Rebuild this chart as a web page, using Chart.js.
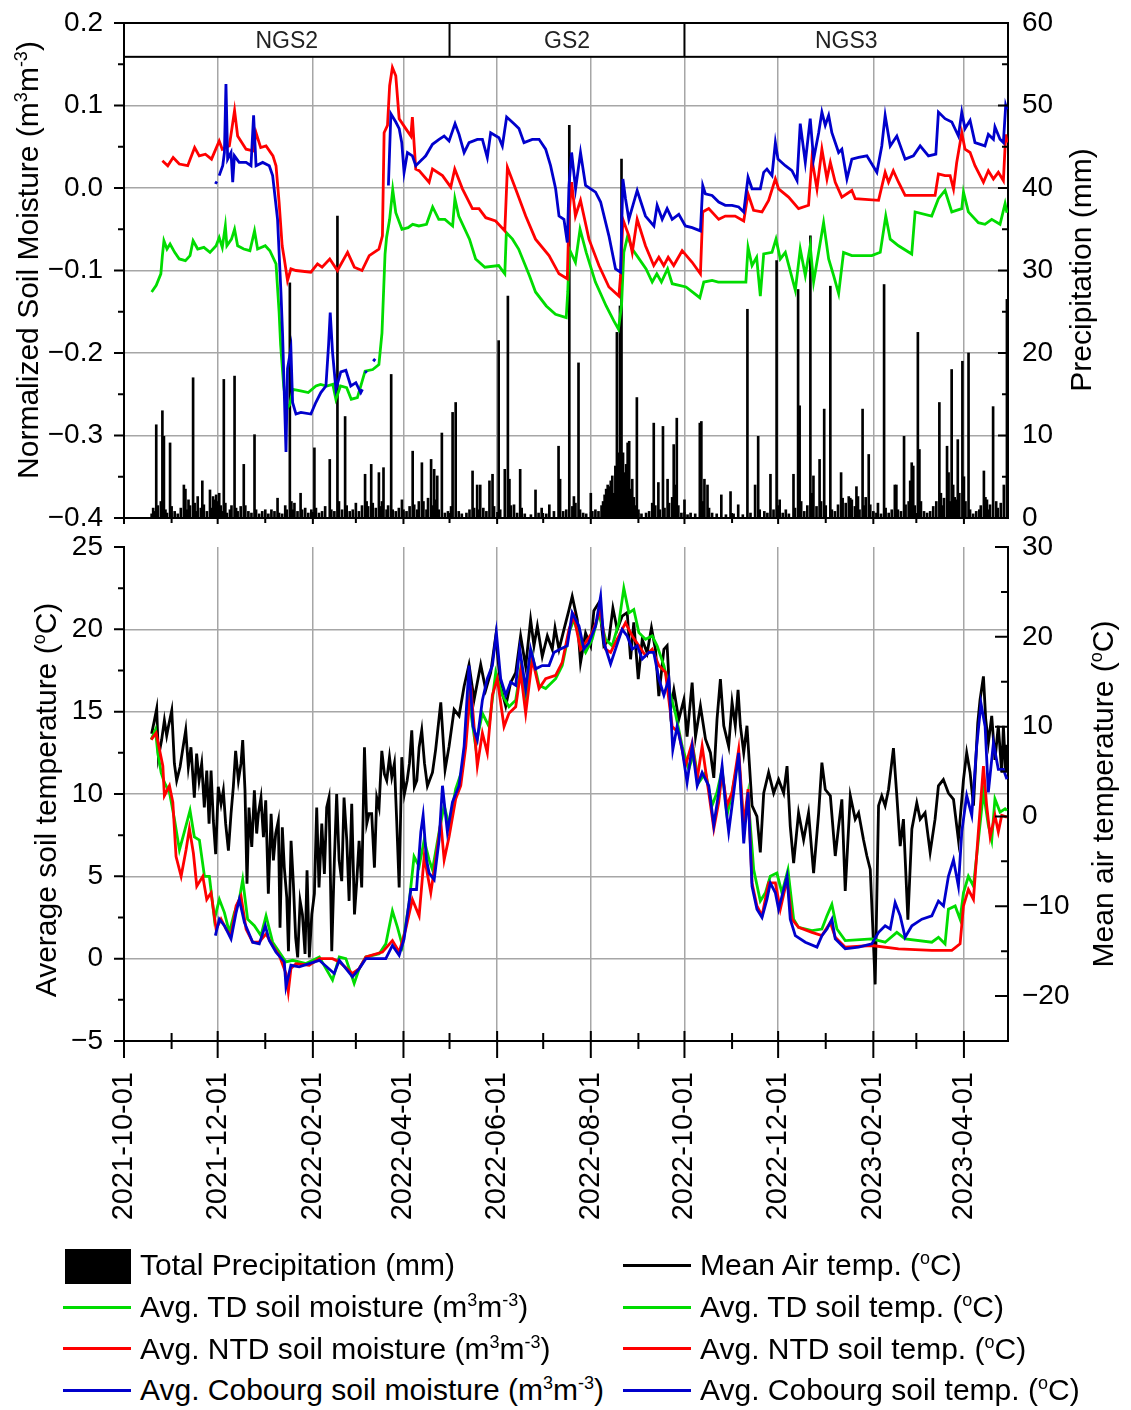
<!DOCTYPE html>
<html><head><meta charset="utf-8">
<script src="https://cdn.jsdelivr.net/npm/chart.js@4.4.1/dist/chart.umd.min.js"></script>
<style>
html,body{margin:0;padding:0;background:#fff;}
body{width:1131px;height:1410px;position:relative;overflow:hidden;font-family:"Liberation Sans",Arial,Helvetica,sans-serif;color:#000;}
canvas{position:absolute;left:0;}
#c1{top:0;} #c2{top:530px;}
.ttl{position:absolute;width:600px;height:36px;line-height:36px;text-align:center;font-size:30px;transform:rotate(-90deg);white-space:nowrap;}
sup{font-size:0.6em;vertical-align:0.62em;line-height:0;}
.leg{position:absolute;font-size:30px;line-height:34px;white-space:nowrap;}
.sw{position:absolute;}
</style></head>
<body>
<canvas id="c1" width="1131" height="530"></canvas>
<canvas id="c2" width="1131" height="720"></canvas>

<div class="ttl" style="left:-272px;top:242px;">Normalized Soil Moisture (m<sup>3</sup>m<sup>-3</sup>)</div>
<div class="ttl" style="left:781px;top:252px;">Precipitation (mm)</div>
<div class="ttl" style="left:-254px;top:782px;">Average soil temperature (<sup>o</sup>C)</div>
<div class="ttl" style="left:803px;top:776px;">Mean air temperature (<sup>o</sup>C)</div>

<div class="sw" style="left:65px;top:1249px;width:66px;height:35px;background:#000"></div>
<div class="leg" style="left:140px;top:1248px">Total Precipitation (mm)</div>
<div class="sw" id="l2" style="left:63px;top:1306px;width:68px;height:3px;"></div>
<div class="leg" style="left:140px;top:1290px">Avg. TD soil moisture (m<sup>3</sup>m<sup>-3</sup>)</div>
<div class="sw" id="l3" style="left:63px;top:1347px;width:68px;height:3px;"></div>
<div class="leg" style="left:140px;top:1332px">Avg. NTD soil moisture (m<sup>3</sup>m<sup>-3</sup>)</div>
<div class="sw" id="l4" style="left:63px;top:1389px;width:68px;height:3px;"></div>
<div class="leg" style="left:140px;top:1373px">Avg. Cobourg soil moisture (m<sup>3</sup>m<sup>-3</sup>)</div>

<div class="sw" id="r1" style="left:623px;top:1264px;width:68px;height:3px;"></div>
<div class="leg" style="left:700px;top:1248px">Mean Air temp. (<sup>o</sup>C)</div>
<div class="sw" id="r2" style="left:623px;top:1306px;width:68px;height:3px;"></div>
<div class="leg" style="left:700px;top:1290px">Avg. TD soil temp. (<sup>o</sup>C)</div>
<div class="sw" id="r3" style="left:623px;top:1347px;width:68px;height:3px;"></div>
<div class="leg" style="left:700px;top:1332px">Avg. NTD soil temp. (<sup>o</sup>C)</div>
<div class="sw" id="r4" style="left:623px;top:1389px;width:68px;height:3px;"></div>
<div class="leg" style="left:700px;top:1373px">Avg. Cobourg soil temp. (<sup>o</sup>C)</div>

<script>
// ---------------- DATA (x = days since 2021-10-01) ----------------
const monthLabels = ['2021-10-01','2021-11-01','2021-12-01','2022-01-01','2022-02-01','2022-03-01','2022-04-01','2022-05-01','2022-06-01','2022-07-01','2022-08-01','2022-09-01','2022-10-01','2022-11-01','2022-12-01','2023-01-01','2023-02-01','2023-03-01','2023-04-01'];
const lastDate = '2023-04-29';
const bandNames = ['NGS2','GS2','NGS3'];
const bandStarts = ['2021-10-01','2022-05-01','2022-10-01'];

const precipitation = [[18,0.5],[19,1.2],[20,0.8],[21,11.3],[22,1.5],[24,2.0],[25,13.0],[26,9.9],[27,1.0],[28,0.6],[30,9.1],[31,1.4],[33,0.8],[35,0.5],[37,1.2],[39,4.0],[40,3.5],[41,1.0],[42,2.2],[43,1.5],[45,17.0],[46,1.8],[47,0.8],[48,2.6],[50,1.2],[51,4.5],[52,1.6],[54,0.8],[56,3.4],[57,1.2],[58,2.6],[59,2.2],[60,2.8],[61,2.0],[62,3.0],[63,1.5],[64,0.8],[65,16.8],[66,1.8],[67,0.6],[69,1.0],[70,1.5],[72,17.2],[73,1.2],[74,0.8],[76,1.4],[78,6.5],[79,1.5],[81,0.8],[83,0.6],[85,10.1],[86,1.0],[88,0.5],[90,0.8],[92,1.0],[94,0.5],[96,1.0],[98,0.8],[100,2.4],[101,0.6],[103,0.5],[105,1.5],[106,1.0],[108,28.5],[109,2.0],[110,1.0],[111,1.8],[113,0.8],[115,3.0],[116,1.0],[118,1.2],[120,0.6],[122,1.0],[124,8.5],[125,1.2],[127,0.6],[129,0.8],[131,1.4],[134,7.1],[135,1.0],[137,0.8],[139,36.6],[140,2.0],[142,1.0],[144,12.3],[145,1.5],[147,0.8],[149,1.0],[151,1.8],[153,0.8],[155,1.5],[157,5.3],[158,2.0],[159,1.4],[161,6.5],[162,1.8],[164,1.2],[166,5.5],[167,1.4],[168,2.0],[169,6.1],[171,1.0],[172,1.5],[174,17.4],[175,1.0],[177,0.8],[179,1.2],[181,2.2],[182,1.0],[184,0.8],[186,1.4],[188,8.1],[189,1.6],[191,1.0],[192,2.0],[194,6.7],[195,2.0],[197,1.0],[198,2.4],[200,7.1],[201,1.5],[202,5.9],[203,2.2],[204,5.1],[205,1.0],[207,10.3],[209,0.6],[211,0.8],[213,1.4],[214,12.8],[216,14.0],[218,0.8],[220,0.5],[223,0.6],[225,1.0],[227,5.7],[228,1.2],[230,4.0],[231,1.0],[232,4.0],[234,1.2],[236,0.8],[238,4.5],[240,5.3],[241,1.4],[244,21.5],[245,1.0],[248,5.9],[250,26.9],[251,4.7],[252,1.5],[254,1.6],[256,0.6],[258,5.9],[259,1.2],[261,0.5],[265,0.4],[268,3.4],[270,0.6],[272,1.2],[275,0.5],[277,1.6],[280,0.8],[283,8.7],[284,4.7],[286,0.8],[288,1.0],[290,47.6],[292,1.4],[293,2.6],[294,1.8],[296,18.8],[297,1.0],[299,0.6],[301,0.5],[304,3.0],[305,0.8],[307,1.0],[309,0.8],[311,1.5],[312,2.0],[313,2.8],[314,3.5],[315,4.0],[316,3.8],[317,4.5],[318,5.1],[319,3.0],[320,6.3],[321,22.5],[322,7.9],[323,25.7],[324,43.5],[325,7.9],[326,5.5],[327,6.5],[328,9.1],[329,9.3],[330,3.5],[331,4.7],[332,2.5],[333,1.5],[334,14.6],[335,1.0],[337,0.5],[340,0.6],[342,0.8],[344,1.8],[345,11.5],[346,1.5],[348,4.3],[349,1.0],[351,11.1],[352,1.2],[354,4.7],[355,1.8],[357,2.5],[358,8.9],[359,4.0],[360,12.1],[361,1.5],[363,0.6],[365,2.2],[367,0.4],[369,0.6],[372,0.5],[375,11.5],[376,11.7],[377,2.0],[378,4.7],[380,4.0],[381,1.2],[383,0.6],[386,0.5],[389,2.8],[392,0.4],[395,3.2],[397,0.5],[400,1.6],[403,0.4],[406,25.3],[408,0.6],[411,4.0],[413,9.9],[414,1.0],[417,0.8],[419,0.6],[421,5.3],[423,1.0],[425,31.2],[426,1.5],[427,2.2],[429,0.6],[431,1.0],[433,0.5],[436,5.3],[437,1.2],[439,27.7],[440,13.6],[441,2.0],[443,0.8],[445,1.5],[447,34.2],[448,3.0],[449,5.1],[451,1.4],[453,7.1],[454,2.0],[456,13.2],[457,1.5],[460,28.1],[461,1.0],[463,0.8],[465,1.6],[467,5.5],[468,2.4],[470,1.8],[472,2.6],[473,2.4],[474,2.2],[476,1.4],[477,3.8],[478,2.6],[479,1.0],[481,13.2],[482,1.5],[483,2.5],[485,7.7],[486,1.6],[488,0.8],[490,0.6],[491,1.8],[493,0.5],[495,28.3],[496,1.2],[498,0.6],[500,1.0],[502,4.0],[503,4.0],[504,1.0],[506,0.8],[508,9.9],[509,1.6],[511,2.0],[512,4.5],[513,6.7],[514,6.3],[515,1.5],[517,22.5],[518,8.3],[519,2.0],[521,0.8],[523,0.6],[525,0.8],[527,1.4],[529,2.0],[531,14.0],[532,3.0],[533,1.5],[534,2.4],[536,8.7],[537,5.5],[538,2.0],[539,18.0],[540,4.0],[541,2.5],[542,2.2],[543,9.5],[544,3.0],[546,19.0],[547,5.0],[548,2.0],[550,20.0],[551,1.0],[553,0.5],[555,0.8],[557,1.0],[558,1.5],[560,5.7],[561,2.5],[562,2.2],[563,1.0],[564,1.6],[566,13.5],[568,2.0],[569,1.2],[571,1.8],[573,4.0],[575,26.5]];

const tdMoisture = [[18,-0.126],[21,-0.118],[24,-0.104],[25,-0.082],[26,-0.064],[28,-0.074],[30,-0.068],[33,-0.078],[36,-0.086],[40,-0.088],[43,-0.082],[45,-0.064],[48,-0.074],[52,-0.072],[56,-0.078],[60,-0.070],[62,-0.060],[64,-0.072],[66,-0.046],[67,-0.070],[70,-0.062],[72,-0.050],[74,-0.070],[78,-0.074],[82,-0.076],[85,-0.052],[87,-0.074],[92,-0.070],[95,-0.076],[99,-0.092],[101,-0.150],[102,-0.190],[104,-0.240],[106,-0.268],[108,-0.262],[110,-0.244],[115,-0.246],[120,-0.248],[125,-0.240],[128,-0.238],[132,-0.240],[136,-0.238],[138,-0.256],[141,-0.240],[145,-0.242],[148,-0.256],[152,-0.254],[157,-0.222],[162,-0.220],[166,-0.214],[168,-0.176],[170,-0.080],[171,-0.060],[173,-0.038],[175,-0.002],[177,-0.030],[181,-0.050],[185,-0.048],[188,-0.044],[192,-0.046],[197,-0.044],[201,-0.023],[205,-0.038],[209,-0.038],[214,-0.046],[215.5,-0.013],[218,-0.034],[225,-0.062],[229,-0.086],[235,-0.096],[244,-0.094],[248,-0.104],[249,-0.054],[253,-0.062],[257,-0.074],[264,-0.106],[268,-0.126],[275,-0.143],[281,-0.153],[288,-0.157],[289,-0.126],[290,-0.074],[294,-0.090],[297,-0.050],[301,-0.078],[307,-0.114],[314,-0.143],[319,-0.161],[322,-0.171],[324,-0.143],[325.5,-0.078],[328,-0.058],[331,-0.074],[334,-0.082],[340,-0.098],[344,-0.114],[347,-0.104],[350,-0.114],[354,-0.098],[357,-0.116],[366,-0.120],[375,-0.133],[377.6,-0.114],[383,-0.112],[387,-0.114],[405,-0.114],[406.4,-0.072],[409,-0.094],[412,-0.084],[414.4,-0.131],[416.6,-0.080],[422,-0.078],[424.6,-0.062],[427.4,-0.086],[430.7,-0.078],[437.2,-0.124],[440.4,-0.074],[443.7,-0.106],[446.9,-0.070],[449.1,-0.114],[455.6,-0.042],[458.9,-0.086],[462.1,-0.106],[465.4,-0.128],[468.6,-0.078],[474,-0.082],[487,-0.082],[492.5,-0.078],[496.1,-0.034],[499,-0.062],[504.4,-0.070],[513,-0.080],[515.2,-0.029],[526,-0.034],[530.4,-0.013],[534.7,-0.003],[539.1,-0.029],[545.6,-0.025],[546.7,-0.005],[549.9,-0.029],[556.4,-0.042],[560.7,-0.044],[565.1,-0.038],[570.5,-0.044],[573.8,-0.019],[575,-0.030]];

const ntdMoisture = [[25,0.033],[28.5,0.027],[32,0.037],[36,0.029],[41.5,0.027],[46,0.049],[49,0.039],[53,0.041],[57,0.035],[62,0.057],[64,0.047],[68.6,0.051],[72,0.094],[74,0.063],[79.5,0.047],[84,0.045],[86,0.067],[89,0.049],[92.5,0.051],[97,0.039],[99,0.027],[101,-0.017],[103,-0.070],[104.4,-0.086],[106.5,-0.112],[108.7,-0.098],[112,-0.100],[121.7,-0.102],[126,-0.092],[129,-0.096],[134,-0.086],[139,-0.100],[145.6,-0.078],[150,-0.096],[155,-0.100],[159.7,-0.082],[166,-0.074],[168.3,-0.058],[169.4,0.067],[171.6,0.076],[173,0.124],[174.8,0.146],[177,0.136],[179.2,0.084],[183.5,0.072],[186.8,0.063],[187.8,0.086],[190,0.023],[192.2,0.021],[198.7,0.007],[200.9,0.023],[207.4,0.015],[212.8,0.001],[215.4,0.023],[220.4,-0.001],[226.9,-0.025],[231.2,-0.025],[235.6,-0.036],[242,-0.040],[248,-0.052],[249.7,0.025],[255,-0.001],[261.6,-0.034],[268,-0.062],[276.8,-0.082],[283.3,-0.104],[288.7,-0.110],[289.8,-0.034],[291.5,0.007],[294,-0.034],[297.3,-0.015],[302.8,-0.062],[309.3,-0.094],[315.8,-0.120],[322.3,-0.131],[323.4,-0.106],[324.9,-0.038],[328.8,-0.058],[331,-0.078],[334.2,-0.038],[339.6,-0.070],[345,-0.094],[348.3,-0.084],[351.5,-0.094],[354.4,-0.084],[358,-0.094],[363.5,-0.076],[370,-0.090],[375.4,-0.104],[376.9,-0.029],[380.8,-0.025],[387.3,-0.038],[391.6,-0.034],[398,-0.034],[403.6,-0.040],[406.4,-0.007],[410,-0.027],[415.5,-0.029],[419.8,-0.015],[424.2,0.011],[426.3,-0.001],[432.8,-0.011],[439.3,-0.025],[445.8,-0.021],[448,0.035],[451.3,-0.001],[454.5,0.047],[457.8,0.011],[460,0.031],[463.2,0.007],[467.5,-0.011],[474,-0.003],[476.2,-0.013],[491.4,-0.015],[495.7,0.019],[497.9,0.007],[501,0.021],[504.4,0.007],[508.7,-0.009],[528.2,-0.009],[530.4,0.017],[534.7,0.015],[538,0.015],[540.2,-0.001],[542.3,0.031],[545.6,0.067],[547.7,0.047],[551,0.043],[554.2,0.027],[559.7,0.007],[562.9,0.021],[566.2,0.011],[569.4,0.019],[572.7,0.009],[574.2,0.065],[575,0.055]];

const cobourgMoisture = [[59.5,0.005],[60.5,0.008],[61,null],[62,0.015],[64.3,0.027],[65.4,0.043],[66.4,0.126],[67.5,0.035],[69.7,0.043],[70.8,0.007],[71.9,0.039],[75,0.031],[79.5,0.031],[82.7,0.027],[84.4,0.088],[86,0.027],[90.3,0.031],[94.6,0.027],[96.8,0.015],[98.5,-0.013],[100,-0.038],[102.2,-0.126],[103.3,-0.179],[105.5,-0.320],[106.5,-0.219],[108.7,-0.195],[109.8,-0.260],[112,-0.274],[115.2,-0.272],[121.7,-0.274],[124.9,-0.260],[128.2,-0.248],[131.5,-0.240],[133.2,-0.191],[134.3,-0.151],[135.8,-0.199],[138,-0.244],[141.2,-0.223],[144.5,-0.221],[147.7,-0.240],[151,-0.236],[154.2,-0.248],[155.3,-0.244],[156,null],[157,-0.222],[158.2,-0.224],[159,null],[162.3,-0.210],[163.6,-0.207],[164,null],[172.2,0.003],[173.8,0.090],[177,0.080],[179.2,0.072],[180.9,0.055],[182.4,0.019],[184.6,0.043],[187.8,0.039],[190,0.027],[194.4,0.035],[196.5,0.039],[200.9,0.053],[205.2,0.059],[208.5,0.063],[211.7,0.057],[215.6,0.078],[218.2,0.065],[221.5,0.043],[224.7,0.055],[230.1,0.059],[233.4,0.059],[236.6,0.037],[238.8,0.067],[244.2,0.061],[246.4,0.051],[249.2,0.086],[254,0.078],[257.2,0.072],[260.5,0.055],[265.9,0.059],[270.3,0.059],[274.6,0.047],[277.8,0.027],[281.1,-0.001],[283.3,-0.034],[286.5,-0.038],[288.7,-0.066],[289.8,0.003],[291.5,0.043],[294.1,-0.001],[297.3,0.043],[300.6,0.003],[307.1,-0.005],[310.4,-0.017],[315.8,-0.058],[320.1,-0.098],[323.4,-0.102],[324.9,0.011],[326.6,-0.013],[328.8,-0.038],[334.2,-0.003],[339.6,-0.034],[345.1,-0.046],[347.2,-0.021],[350.5,-0.038],[353.7,-0.025],[357,-0.038],[361.3,-0.032],[365.6,-0.046],[370,-0.048],[375.4,-0.052],[376.9,0.003],[378.6,-0.007],[383,-0.009],[387.3,-0.017],[391.6,-0.021],[396,-0.021],[400.3,-0.023],[403.6,-0.029],[406.4,0.013],[409,-0.001],[414.4,-0.001],[416.6,0.019],[418.7,0.023],[422,0.015],[424.2,0.055],[425.9,0.035],[430.7,0.027],[435,0.021],[438.3,0.009],[440.4,0.078],[443.7,0.031],[446.9,0.084],[449.1,0.035],[452.4,0.067],[454.5,0.092],[456.7,0.076],[458.9,0.088],[461,0.067],[465.4,0.043],[467.5,0.047],[470.8,0.011],[474,0.035],[478.4,0.037],[483.8,0.039],[490.3,0.019],[493.5,0.051],[495.7,0.088],[499,0.051],[503.3,0.063],[508.7,0.035],[514.1,0.039],[518.5,0.051],[523.9,0.039],[528.7,0.041],[530.4,0.092],[534.7,0.084],[539.1,0.080],[543.4,0.063],[545.6,0.092],[547.7,0.072],[551,0.082],[554.2,0.055],[560.7,0.051],[562.9,0.065],[566.2,0.059],[567.2,0.074],[570.5,0.059],[572.7,0.055],[574.2,0.100],[575,0.095]];

const airTemp = [[18.0,9.2],[19.8,10.7],[21.3,12.0],[22.4,6.6],[24.5,8.5],[26.3,10.7],[27.8,9.0],[28.9,10.0],[31.1,11.8],[32.8,5.9],[34.3,4.0],[36.5,5.5],[38.0,7.2],[40.2,9.6],[41.9,5.5],[43.6,7.7],[45.8,2.1],[47.3,7.0],[48.9,4.0],[50.6,5.9],[52.3,1.0],[53.9,5.1],[55.4,-0.8],[56.7,5.1],[58.2,-0.5],[59.7,-4.2],[61.4,3.3],[63.2,1.4],[64.7,2.9],[66.2,-0.8],[68.0,-3.8],[69.7,0.3],[71.2,3.3],[72.7,7.3],[74.5,4.0],[76.2,5.9],[77.3,8.5],[78.8,2.9],[80.1,-7.5],[81.4,1.0],[83.2,-3.4],[84.9,2.9],[86.4,-1.9],[87.5,0.3],[89.2,2.1],[90.8,-2.3],[92.3,1.8],[94.0,-8.6],[95.8,0.3],[97.3,-4.9],[98.8,-1.9],[100.5,-0.5],[101.6,-12.4],[103.1,-1.2],[104.4,-5.7],[106.0,-9.0],[107.1,-15.0],[108.8,-2.7],[110.3,-7.5],[111.8,-13.5],[113.1,-15.7],[114.7,-9.4],[116.2,-10.9],[117.9,-15.3],[119.2,-6.0],[120.7,-15.7],[122.3,-10.9],[124.0,-8.6],[125.5,1.0],[127.0,-7.9],[128.8,-0.8],[130.5,-6.4],[132.0,1.0],[133.5,2.1],[135.3,-15.0],[137.0,-4.9],[138.5,2.5],[140.1,-4.9],[141.8,-7.2],[143.3,2.1],[145.1,-2.7],[146.6,-9.4],[148.3,1.4],[150.1,-10.9],[151.6,-7.2],[153.1,-2.7],[154.8,-7.9],[156.6,7.7],[158.1,-0.8],[159.6,0.3],[161.3,0.3],[163.1,-5.7],[164.6,2.1],[166.1,1.0],[167.9,7.3],[169.6,4.7],[171.1,4.0],[172.9,6.6],[174.4,4.4],[176.1,5.9],[177.6,-0.5],[179.2,-7.9],[180.9,6.6],[182.6,2.5],[184.4,4.0],[185.9,5.9],[187.4,9.6],[189.1,3.3],[190.7,4.0],[192.2,7.7],[193.9,9.6],[195.7,5.9],[197.6,3.4],[200.9,4.9],[203,7.5],[206.3,12.7],[209.1,5.2],[211.7,7.8],[215,11.9],[218.2,11.2],[221.5,14.5],[224.7,16.9],[228,13.0],[232.3,16.9],[235.6,14.1],[238.8,16.0],[242.1,20.1],[245.3,14.5],[248.6,12.3],[251.8,14.9],[255.1,16.0],[258.3,20.1],[261.6,16.7],[264.8,21.9],[267,19.0],[269.2,21.2],[272.4,17.8],[275.7,20.1],[278.9,18.6],[280.7,21.0],[283.3,18.6],[286.5,20.8],[289.8,23.0],[291.9,24.5],[295.2,21.9],[297.3,17.1],[300.6,20.4],[303.9,19.0],[306,22.9],[309.3,23.8],[312.5,19.0],[315.8,19.7],[318.4,23.2],[321.2,20.8],[324.4,22.3],[327.7,22.7],[329.9,17.5],[332,21.6],[334.9,15.3],[337.5,19.7],[340.7,18.2],[343.5,21.0],[346.1,18.6],[348.3,13.4],[351.6,18.6],[353.7,19.0],[355.9,11.9],[358.1,14.1],[361.3,10.8],[364.6,13.0],[366.7,8.9],[370,14.9],[372.2,8.9],[375.4,12.3],[378.7,8.6],[381.9,7.1],[384.1,4.3],[386.2,10.8],[388.4,15.3],[390.6,10.1],[393.8,7.8],[396,12.7],[398.1,10.1],[399.9,14.1],[401.4,10.1],[403.6,7.1],[405.7,10.1],[409,1.2],[412.2,0.0],[414.4,-4.0],[416.6,2.6],[419.8,4.9],[423.1,2.6],[426.3,4.1],[429.6,2.6],[431.8,5.6],[433.9,-1.1],[436.1,-5.2],[439.3,0.4],[442.6,-2.6],[445.8,0.4],[449.1,-6.3],[452.4,0.4],[454.5,6.0],[456.7,3.0],[460,2.3],[463.2,-4.4],[465.4,-1.1],[467.5,1.9],[469.7,-8.3],[473,2.3],[476.2,-0.3],[478.4,0.4],[481.6,-2.6],[483.8,-4.4],[486,-5.9],[487.5,-11.8],[489.2,-18.7],[491.4,1.2],[493.5,2.3],[495.7,1.2],[497.9,3.0],[501.1,7.6],[503.3,2.3],[505.5,-3.3],[507.6,-0.3],[510.5,-11.5],[513.1,-1.4],[516.3,1.5],[518.5,-0.3],[521.7,0.4],[525,-4.0],[528.2,-0.3],[530.4,3.4],[533.6,4.1],[536.9,2.6],[540.2,1.9],[543.4,-2.6],[546.7,4.1],[548.8,7.1],[551,4.9],[553.2,1.2],[556,10.4],[557.5,13.0],[559.7,15.6],[561.2,10.8],[562.9,8.2],[565.1,11.2],[567.2,6.3],[569.4,10.1],[571.6,4.9],[572.7,10.1],[574.2,4.9],[575,8.0]];

const tdSoilTemp = [[17.7,13.3],[20.5,13.9],[22,12.5],[24.2,11.3],[26.3,10.7],[29.6,10.1],[32.8,8.5],[36.1,6.6],[39.3,7.7],[43,9.0],[45.8,7.4],[49.1,7.2],[52.4,5.0],[55.6,5.0],[58.9,2.4],[62.1,3.6],[65.4,2.8],[68.6,1.6],[71.9,2.8],[75.1,3.6],[77.3,4.8],[80.5,2.4],[84.9,2.0],[89.2,1.4],[92.5,2.6],[96.8,1.0],[101.1,0.4],[105.5,-0.2],[109.8,-0.1],[118.5,-0.3],[127.2,0.1],[135.8,-1.3],[140.2,0.1],[144.5,0.0],[149.9,-1.5],[153.2,-0.6],[157.5,0.1],[166.2,0.3],[170.5,0.9],[174.8,2.9],[178.1,1.9],[181.3,0.8],[185.7,3.4],[188.9,6.2],[192.2,5.6],[195.5,7.2],[198.7,6.0],[200.9,5.4],[205.2,7.7],[208.5,9.3],[211.7,8.1],[216,10.3],[220.4,11.5],[224.7,15.7],[229,12.9],[233.4,14.9],[237.7,14.1],[242.1,17.4],[246.4,16.0],[250.7,15.3],[255.1,15.7],[258.3,17.6],[261.6,15.7],[265.9,18.4],[270.3,16.6],[274.6,16.4],[281.1,17.0],[285.4,17.8],[289.8,19.8],[293,20.6],[297.3,19.2],[300.6,18.6],[304.9,19.4],[309.3,21.0],[313.6,19.4],[317.9,19.0],[322.3,20.4],[325.5,22.5],[328.8,21.0],[332,21.2],[335.3,19.8],[339.6,19.4],[344,19.6],[347.2,19.0],[351.6,17.8],[355.9,16.0],[359.1,14.9],[363.5,12.9],[367.8,11.5],[371.1,12.5],[374.3,10.7],[378.7,11.3],[383,9.3],[386.2,10.1],[389.5,11.5],[392.7,8.7],[396,10.1],[400.3,12.3],[403.6,7.9],[406.4,9.9],[410.1,5.4],[414.4,3.5],[417.7,4.0],[420.9,5.0],[425.2,5.2],[428.5,4.0],[432.4,5.4],[436.1,2.4],[439.3,1.9],[448,1.7],[454.5,1.8],[457.8,2.6],[461,3.3],[464.3,1.8],[469.7,1.1],[487,1.2],[495.7,1.0],[503.3,1.6],[508.7,1.2],[526.1,1.0],[530.4,1.3],[534.7,0.9],[536.9,3.0],[541.3,3.2],[544.5,2.4],[546.7,4.0],[549.9,5.0],[553.2,4.4],[556.4,7.2],[559.7,10.1],[562.9,8.1],[565.1,7.2],[567.2,9.7],[570.5,8.9],[573.8,9.1],[575,9.0]];

const ntdSoilTemp = [[17.7,13.3],[20.9,13.7],[25.3,11.7],[26.3,9.9],[29.6,10.5],[31.8,9.5],[33.9,6.2],[37.2,5.0],[40.4,6.6],[42.6,7.9],[45.2,6.4],[47.4,4.4],[51.3,5.0],[53.9,3.6],[56.7,4.0],[60,1.8],[63.2,2.4],[66.5,1.8],[69.7,1.4],[73,3.2],[76.2,3.8],[79.5,1.8],[83.8,1.0],[88,1.0],[92.5,1.5],[96.8,0.8],[101.1,0.2],[105.5,-0.9],[107,-2.0],[108.7,-0.6],[112,-0.3],[120.6,-0.4],[127.2,0.0],[135.8,0.0],[140.2,-0.2],[148.8,-0.9],[153.2,-0.6],[157.5,0.1],[168.3,0.4],[174.8,1.1],[179.2,0.4],[183.5,1.8],[187.8,3.6],[192.2,2.6],[195.5,6.2],[199.8,4.0],[203,6.0],[206.3,8.3],[208.5,6.0],[211.7,7.4],[216,9.7],[219.3,10.5],[222.6,12.9],[225.8,16.6],[230.1,11.7],[233.4,13.7],[236.6,12.5],[239.9,16.0],[243.1,17.0],[247.5,14.1],[250.7,14.9],[255.1,15.3],[258.3,17.4],[261.6,14.9],[265.9,18.2],[270.3,16.4],[274.6,17.0],[281.1,17.2],[285.4,18.0],[289.8,20.0],[293,20.8],[297.3,18.8],[300.6,19.2],[304.9,19.8],[310.4,21.2],[313.6,18.8],[316.9,18.6],[321.2,19.4],[326.6,20.4],[331,19.6],[335.3,19.0],[339.6,18.4],[344,18.8],[348.3,17.8],[352.6,17.4],[357,14.1],[361.3,13.7],[365.6,11.7],[370,13.1],[373.3,10.9],[376.5,12.9],[380.8,10.1],[384.1,7.9],[387.3,9.5],[389.5,11.3],[392.7,9.3],[396,10.1],[400.3,12.7],[403.6,8.1],[406.4,10.3],[409,4.6],[412.2,3.2],[415.5,2.6],[419.8,4.6],[424.2,4.6],[427.4,3.0],[431.8,4.8],[435,2.4],[439.3,1.9],[448,1.6],[454.5,1.4],[460,2.2],[463.2,1.3],[469.7,0.7],[487,0.8],[504.4,0.6],[526.1,0.5],[539.1,0.5],[544.5,0.9],[546.7,3.2],[549.9,4.2],[553.2,3.6],[556.4,7.7],[559.7,11.7],[561.8,9.3],[564.1,7.4],[567.2,8.7],[569.4,7.7],[571.6,8.7],[575,8.6]];

const cobourgSoilTemp = [[59.5,1.4],[62.1,2.4],[65.4,2.0],[69.7,1.2],[73,2.8],[75.1,3.6],[78.4,2.2],[83.8,1.0],[88.1,0.9],[92,2.0],[94.6,1.1],[99,0.4],[104.4,-0.2],[105.5,-1.7],[108.7,-0.4],[114.1,-0.5],[127.2,-0.1],[136.9,-0.9],[140.2,-0.1],[148.8,-1.1],[153.2,-0.6],[157.5,0.0],[170.5,0.0],[174.8,0.8],[179.2,0.2],[182.4,1.2],[186.8,4.2],[190.5,4.2],[193.3,7.7],[194.8,8.7],[197,6.0],[198.7,5.2],[202,4.8],[205.2,7.2],[207.4,10.5],[210.6,7.7],[213.9,9.5],[218.2,10.5],[221.5,12.9],[224.7,17.8],[227.3,14.1],[230.1,13.3],[233.4,15.7],[236.6,17.0],[239.9,17.8],[242.5,19.8],[245.3,17.0],[248.6,16.0],[251.8,16.8],[255.1,16.6],[257.7,18.8],[261.6,16.4],[264.8,18.8],[268.1,17.6],[272.4,17.8],[276.8,17.8],[280,18.6],[284.3,18.8],[288.7,19.0],[291.9,21.0],[296.3,20.2],[299.5,18.8],[302.8,19.2],[307.1,20.2],[310.4,22.0],[312.5,19.2],[316.9,17.9],[320.1,18.8],[324.4,20.0],[327.7,19.6],[331,18.8],[334.2,19.0],[337.5,18.2],[341.8,18.6],[345,18.6],[348.3,17.0],[351.6,16.0],[354.8,17.0],[357.4,12.7],[360.2,14.1],[363.5,12.7],[366.7,10.7],[370,12.9],[373.3,10.5],[376.5,11.3],[380.8,10.5],[384.1,8.1],[387.3,10.1],[389.5,11.7],[391.6,9.5],[393.8,7.7],[397.1,10.1],[400.3,12.5],[403.6,7.0],[406.4,10.1],[409,4.4],[412.2,3.0],[415.5,2.5],[418.7,3.6],[420.9,4.6],[424.2,4.0],[426.3,3.0],[429.6,4.2],[431.8,5.0],[433.9,2.4],[437.2,1.4],[443.7,1.0],[451.3,0.7],[454.5,1.4],[457.8,1.8],[461,2.4],[463.2,1.2],[469.7,0.6],[478.4,0.7],[487,0.9],[491.4,1.6],[495.7,2.0],[499,1.8],[502.2,3.4],[505.5,2.6],[508.7,1.3],[513.1,2.0],[519.6,2.4],[526.1,2.6],[530.4,3.5],[533.7,3.2],[536.9,5.0],[540.2,6.0],[543.4,4.4],[545.6,7.7],[548.8,9.9],[552.1,8.7],[555.3,12.9],[558.1,15.5],[560.8,14.1],[562.9,10.1],[566.2,13.1],[569.4,11.5],[572.7,11.5],[575,10.9]];

// ---------------- STYLE / HELPERS ----------------
const GREEN = '#00dc00', RED = '#ff0000', BLUE = '#0000cc', BLACK = '#000000', GRID = '#a6a6a6';
const FONT = '"Liberation Sans", Arial, Helvetica, sans-serif';
Chart.defaults.font.family = FONT;
Chart.defaults.color = '#000';

[['l2',GREEN],['l3',RED],['l4',BLUE],['r1',BLACK],['r2',GREEN],['r3',RED],['r4',BLUE]].forEach(([id,c]) => { document.getElementById(id).style.background = c; });

const ORIGIN = Date.UTC(2021, 9, 1);
const dayOf = s => { const [y, m, d] = s.split('-').map(Number); return (Date.UTC(y, m - 1, d) - ORIGIN) / 86400000; };
const monthDays = monthLabels.map(dayOf);
const majorDays = monthDays.filter((_, i) => i % 2 === 0);
const minorDays = monthDays.filter((_, i) => i % 2 === 1);
const X_MAX = dayOf(lastDate) + 0.7;
const toXY = arr => arr.map(p => ({ x: p[0], y: p[1] }));
const range = (a, b, s) => { const r = []; for (let i = 0; a + i * s <= b + 1e-9; i++) r.push(+(a + i * s).toFixed(4)); return r; };
const fmt = dec => v => { const n = Math.abs(v) < 1e-9 ? 0 : v; return n.toFixed(dec).replace('-', '\u2212'); };
const near = (a, b) => Math.abs(a - b) < 1e-6;
const fixY = w => s => { s.width = w; s.paddingTop = 0; s.paddingBottom = 0; };

function tickPlugin(id, spec) {
  return { id, afterDraw(chart) {
    const ctx = chart.ctx, a = chart.chartArea;
    ctx.save(); ctx.strokeStyle = '#000'; ctx.lineWidth = 2; ctx.beginPath();
    spec.forEach(s => {
      const sc = chart.scales[s.axis];
      s.values.forEach(v => {
        const p = sc.getPixelForValue(v);
        if (s.axis === 'x') { ctx.moveTo(p, a.bottom - s.inLen); ctx.lineTo(p, a.bottom + s.outLen); }
        else if (sc.position === 'left') { ctx.moveTo(a.left - s.outLen, p); ctx.lineTo(a.left + s.inLen, p); }
        else { ctx.moveTo(a.right - s.inLen, p); ctx.lineTo(a.right + s.outLen, p); }
      });
    });
    ctx.stroke(); ctx.restore();
  } };
}

const bandPlugin = { id: 'band', afterDraw(chart) {
  const ctx = chart.ctx, a = chart.chartArea, xs = chart.scales.x, ys = chart.scales.yM;
  const yb = ys.getPixelForValue(0.159);
  ctx.save();
  ctx.fillStyle = '#fff'; ctx.fillRect(a.left, a.top, a.right - a.left, yb - a.top);
  ctx.strokeStyle = '#000'; ctx.lineWidth = 2;
  ctx.strokeRect(a.left, a.top, a.right - a.left, yb - a.top);
  const starts = bandStarts.map(dayOf);
  ctx.beginPath();
  starts.slice(1).forEach(d => { const px = xs.getPixelForValue(d); ctx.moveTo(px, a.top); ctx.lineTo(px, yb); });
  ctx.stroke();
  ctx.fillStyle = '#222'; ctx.font = '23px ' + FONT; ctx.textAlign = 'center'; ctx.textBaseline = 'middle';
  bandNames.forEach((n, i) => {
    const x0 = xs.getPixelForValue(starts[i]);
    const x1 = i + 1 < starts.length ? xs.getPixelForValue(starts[i + 1]) : a.right;
    ctx.fillText(n, (x0 + x1) / 2, (a.top + yb) / 2 + 2);
  });
  ctx.restore();
} };

const lineDs = (label, data, color, axis, order) => ({ type: 'line', label, data: toXY(data), yAxisID: axis, borderColor: color, backgroundColor: color, borderWidth: 2.8, pointRadius: 0, tension: 0, spanGaps: false, order, fill: false });

const common = {
  responsive: false, animation: false, devicePixelRatio: 1,
  plugins: { legend: { display: false }, tooltip: { enabled: false } },
  events: []
};

const xScale = (showLabels, height) => ({
  type: 'linear', min: 0, max: X_MAX, offset: false,
  afterBuildTicks: s => { s.ticks = monthDays.map(v => ({ value: v })); },
  afterFit: s => { s.height = height; s.paddingLeft = 0; s.paddingRight = 0; },
  ticks: { display: showLabels, autoSkip: false, maxRotation: 90, minRotation: 90, padding: 31, font: { size: 29 }, color: '#000',
    callback: (v, i) => (i % 2 === 0 ? monthLabels[i] : '') },
  grid: { offset: false, drawTicks: false, lineWidth: 1.5,
    color: c => (c.tick && majorDays.some(d => near(d, c.tick.value)) && c.tick.value > 0.5 ? GRID : 'rgba(0,0,0,0)') },
  border: { display: true, color: '#000', width: 2 }
});

// ---------------- TOP CHART ----------------
new Chart(document.getElementById('c1'), {
  type: 'line',
  data: { datasets: [
    { type: 'bar', label: 'Total Precipitation (mm)', data: toXY(precipitation), yAxisID: 'yP', backgroundColor: '#000', borderWidth: 0, barThickness: 2, grouped: false, order: 5 },
    lineDs('Avg. TD soil moisture', tdMoisture, GREEN, 'yM', 3),
    lineDs('Avg. NTD soil moisture', ntdMoisture, RED, 'yM', 2),
    lineDs('Avg. Cobourg soil moisture', cobourgMoisture, BLUE, 'yM', 1)
  ] },
  options: Object.assign({}, common, {
    layout: { padding: { top: 23, left: 0, right: 0, bottom: 0 } },
    scales: {
      x: xScale(false, 12),
      yM: { type: 'linear', position: 'left', min: -0.4, max: 0.2,
        afterBuildTicks: s => { s.ticks = range(-0.4, 0.2, 0.1).map(v => ({ value: v })); },
        afterFit: fixY(124),
        ticks: { font: { size: 28 }, color: '#000', padding: 21, callback: fmt(1) },
        grid: { drawTicks: false, lineWidth: 1.5, color: c => (c.tick && (near(c.tick.value, -0.4) || near(c.tick.value, 0.2)) ? 'rgba(0,0,0,0)' : GRID) },
        border: { display: true, color: '#000', width: 2 } },
      yP: { type: 'linear', position: 'right', min: 0, max: 60,
        afterBuildTicks: s => { s.ticks = range(0, 60, 10).map(v => ({ value: v })); },
        afterFit: fixY(123),
        ticks: { font: { size: 28 }, color: '#000', padding: 14, callback: fmt(0) },
        grid: { drawOnChartArea: false, drawTicks: false },
        border: { display: true, color: '#000', width: 2 } }
    }
  }),
  plugins: [bandPlugin, tickPlugin('ticks1', [
    { axis: 'yM', values: range(-0.4, 0.2, 0.1), outLen: 10, inLen: 0 },
    { axis: 'yM', values: range(-0.35, 0.15, 0.1), outLen: 6, inLen: 0 },
    { axis: 'yP', values: range(0, 60, 10), outLen: 0, inLen: 10 },
    { axis: 'yP', values: range(5, 55, 10), outLen: 0, inLen: 6 },
    { axis: 'x', values: majorDays, outLen: 6, inLen: 6 },
    { axis: 'x', values: minorDays, outLen: 5, inLen: 5 }
  ])]
});

// ---------------- BOTTOM CHART ----------------
new Chart(document.getElementById('c2'), {
  type: 'line',
  data: { datasets: [
    lineDs('Mean Air temp.', airTemp, BLACK, 'yA', 4),
    lineDs('Avg. TD soil temp.', tdSoilTemp, GREEN, 'yT', 3),
    lineDs('Avg. NTD soil temp.', ntdSoilTemp, RED, 'yT', 2),
    lineDs('Avg. Cobourg soil temp.', cobourgSoilTemp, BLUE, 'yT', 1)
  ] },
  options: Object.assign({}, common, {
    layout: { padding: { top: 17, left: 0, right: 0, bottom: 0 } },
    scales: {
      x: xScale(true, 209),
      yT: { type: 'linear', position: 'left', min: -5, max: 25,
        afterBuildTicks: s => { s.ticks = range(-5, 25, 5).map(v => ({ value: v })); },
        afterFit: fixY(124),
        ticks: { font: { size: 28 }, color: '#000', padding: 21, callback: fmt(0) },
        grid: { drawTicks: false, lineWidth: 1.5, color: c => (c.tick && (near(c.tick.value, -5) || near(c.tick.value, 25)) ? 'rgba(0,0,0,0)' : GRID) },
        border: { display: true, color: '#000', width: 2 } },
      yA: { type: 'linear', position: 'right', min: -25, max: 30,
        afterBuildTicks: s => { s.ticks = range(-20, 30, 10).map(v => ({ value: v })); },
        afterFit: fixY(123),
        ticks: { font: { size: 28 }, color: '#000', padding: 14, callback: fmt(0) },
        grid: { drawOnChartArea: false, drawTicks: false },
        border: { display: true, color: '#000', width: 2 } }
    }
  }),
  plugins: [tickPlugin('ticks2', [
    { axis: 'yT', values: range(-5, 25, 5), outLen: 10, inLen: 0 },
    { axis: 'yT', values: range(-2.5, 22.5, 5), outLen: 6, inLen: 0 },
    { axis: 'yA', values: range(-20, 30, 10), outLen: 0, inLen: 13 },
    { axis: 'yA', values: range(-25, 25, 10), outLen: 0, inLen: 7 },
    { axis: 'x', values: majorDays, outLen: 17, inLen: 10 },
    { axis: 'x', values: minorDays, outLen: 8, inLen: 8 }
  ])]
});
</script>
</body></html>
